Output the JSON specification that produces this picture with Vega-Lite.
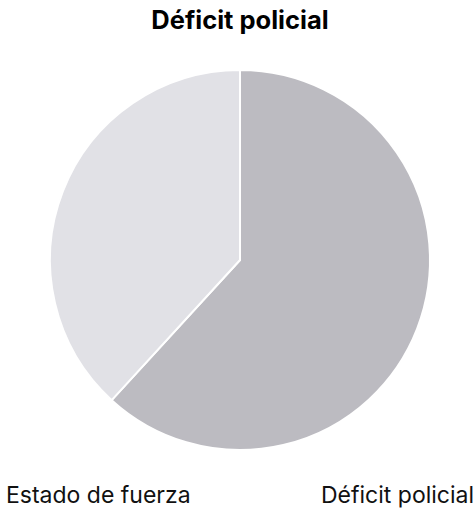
{
  "$schema": "https://vega.github.io/schema/vega-lite/v6.json",
  "width": 466,
  "height": 420,
  "padding": {"left": 7, "right": 0, "top": 50, "bottom": 39},
  "autosize": {"type": "none"},
  "background": "white",
  "title": {
    "text": "Déficit policial",
    "font": "Inter",
    "fontSize": 25.5,
    "fontWeight": "bold",
    "color": "#000000",
    "anchor": "middle",
    "offset": 16
  },
  "data": {
    "values": [
      {"categoria": "Déficit policial", "valor": 61.8},
      {"categoria": "Estado de fuerza", "valor": 38.2}
    ]
  },
  "mark": {"type": "arc", "outerRadius": 190, "stroke": "white", "strokeWidth": 2},
  "encoding": {
    "theta": {"field": "valor", "type": "quantitative", "stack": true},
    "order": {"field": "categoria", "sort": "ascending"},
    "color": {
      "field": "categoria",
      "type": "nominal",
      "scale": {
        "domain": ["Estado de fuerza", "Déficit policial"],
        "range": ["#e1e1e6", "#bcbbc1"]
      },
      "legend": {
        "title": null,
        "orient": "none",
        "legendX": -24,
        "legendY": 434,
        "direction": "horizontal",
        "symbolOpacity": 0,
        "symbolSize": 0,
        "labelOffset": 0,
        "labelLimit": 300,
        "labelFont": "Inter",
        "labelFontSize": 23,
        "labelColor": "#111111",
        "columnPadding": 107
      }
    }
  },
  "config": {
    "view": {"stroke": null}
  }
}
